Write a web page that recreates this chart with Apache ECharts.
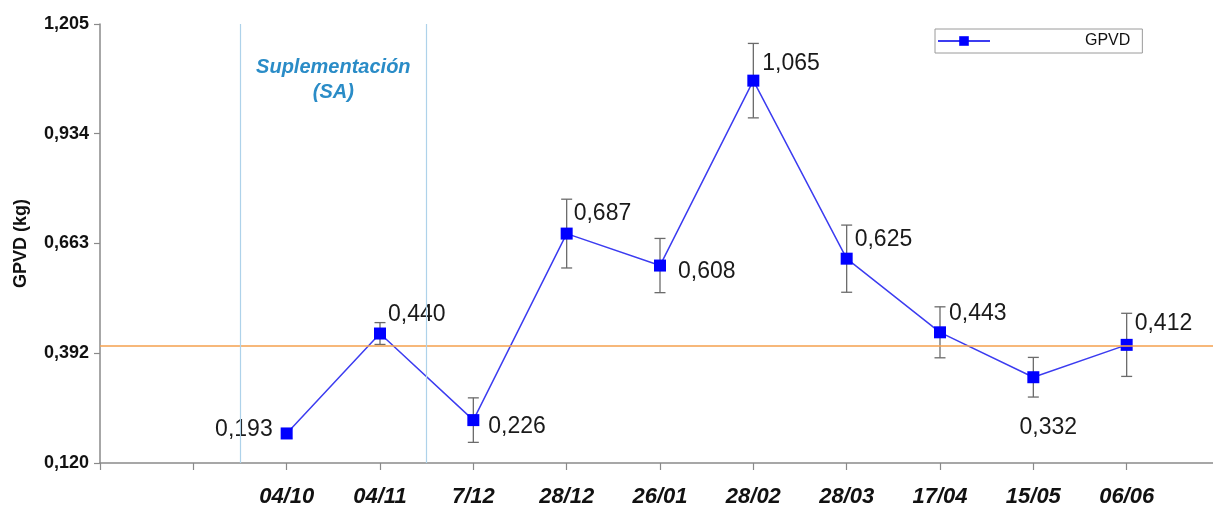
<!DOCTYPE html>
<html>
<head>
<meta charset="utf-8">
<script src="https://cdn.jsdelivr.net/npm/echarts@6/dist/echarts.min.js"></script>
<style>
html,body{margin:0;padding:0;background:#fff;}
#chart{width:1213px;height:510px;}
</style>
</head>
<body>
<div id="chart"></div>
<script>
// ---- data ----
var categories = ['04/10', '04/11', '7/12', '28/12', '26/01', '28/02', '28/03', '17/04', '15/05', '06/06'];
var gpvd = [0.193, 0.440, 0.226, 0.687, 0.608, 1.065, 0.625, 0.443, 0.332, 0.412];
var gpvdError = [0.012, 0.027, 0.055, 0.085, 0.067, 0.092, 0.083, 0.063, 0.049, 0.078];
var yTickValues = [0.120, 0.392, 0.663, 0.934, 1.205];
var referenceLevel = 0.413;
var firstSlot = 2;          // two empty category slots before the first date
var totalSlots = 12;        // slot count shown along the axis
var supplementStart = 1.5;  // supplementation period boundaries (slot units)
var supplementEnd = 3.5;

// ---- label placement (style only) ----
var labelPlace = [
  {position: 'left', distance: 8, offset: [0, -4]},
  {position: 'right', distance: 2, offset: [0, -19]},
  {position: 'right', distance: 2, offset: [7, 7]},
  {position: 'right', distance: 2, offset: [-1, -20]},
  {position: 'right', distance: 2, offset: [10, 6]},
  {position: 'right', distance: 2, offset: [1, -17]},
  {position: 'right', distance: 2, offset: [0, -19]},
  {position: 'right', distance: 2, offset: [1, -19]},
  {position: 'bottom', distance: 2, offset: [15, 31]},
  {position: 'right', distance: 2, offset: [0, -21]}
];

function fmt(v) { return v.toFixed(3).replace('.', ','); }

var lineData = gpvd.map(function (v, i) {
  return {
    value: [i + firstSlot, v],
    label: {
      show: true,
      position: labelPlace[i].position,
      distance: labelPlace[i].distance,
      offset: labelPlace[i].offset,
      formatter: fmt(v),
      fontSize: 23,
      color: '#1a1a1a',
      fontFamily: 'Liberation Sans, Arial, sans-serif'
    }
  };
});
var errData = gpvd.map(function (v, i) {
  return [i + firstSlot, v - gpvdError[i], v + gpvdError[i]];
});

var chart = echarts.init(document.getElementById('chart'), null, {renderer: 'canvas'});
chart.setOption({
  backgroundColor: '#ffffff',
  animation: false,
  grid: {left: 100, top: 24, bottom: 47, right: -7, containLabel: false, outerBoundsMode: 'none'},
  legend: {
    data: ['GPVD'],
    left: 935, top: 29,
    orient: 'horizontal',
    padding: [4, 12, 4, 2],
    borderColor: '#9a9a9a', borderWidth: 1,
    itemWidth: 52, itemHeight: 12,
    textStyle: {fontSize: 16, color: '#111', fontFamily: 'Liberation Sans, Arial, sans-serif', padding: [0, 0, 0, 90]}
  },
  xAxis: {
    type: 'value',
    min: 0, max: totalSlots, interval: 1,
    splitLine: {show: false},
    axisLine: {show: true, lineStyle: {color: '#8a8a8a', width: 1.5}},
    axisTick: {show: true, length: 7, lineStyle: {color: '#8a8a8a', width: 1.2}},
    axisLabel: {
      margin: 23,
      fontSize: 22, fontWeight: 'bold', fontStyle: 'italic', color: '#111',
      fontFamily: 'Liberation Sans Narrow, Liberation Sans, Arial, sans-serif',
      formatter: function (v) {
        var i = Math.round(v) - firstSlot;
        return (i >= 0 && i < categories.length) ? categories[i] : '';
      }
    }
  },
  yAxis: {
    type: 'value',
    min: yTickValues[0], max: yTickValues[yTickValues.length - 1],
    name: 'GPVD (kg)', nameLocation: 'middle', nameGap: 70,
    nameTextStyle: {fontSize: 18, fontWeight: 'bold', color: '#111', fontFamily: 'Liberation Sans, Arial, sans-serif'},
    splitLine: {show: false},
    axisLine: {show: true, lineStyle: {color: '#8a8a8a', width: 1.5}},
    axisTick: {show: true, length: 6, customValues: yTickValues, lineStyle: {color: '#8a8a8a', width: 1.2}},
    axisLabel: {
      customValues: yTickValues,
      margin: 11,
      fontSize: 18, fontWeight: 'bold', color: '#111',
      fontFamily: 'Liberation Sans, Arial, sans-serif',
      formatter: function (v) { return fmt(v); }
    }
  },
  series: [
    {
      type: 'custom',
      name: 'err',
      z: 1,
      silent: true,
      data: errData,
      encode: {x: 0, y: [1, 2]},
      renderItem: function (params, api) {
        var x = api.value(0);
        var top = api.coord([x, api.value(2)]);
        var bot = api.coord([x, api.value(1)]);
        var st = {stroke: '#6b6b6b', lineWidth: 1.3};
        var cw = 5.5;
        return {
          type: 'group',
          children: [
            {type: 'line', shape: {x1: top[0], y1: top[1], x2: bot[0], y2: bot[1]}, style: st},
            {type: 'line', shape: {x1: top[0] - cw, y1: top[1], x2: top[0] + cw, y2: top[1]}, style: st},
            {type: 'line', shape: {x1: bot[0] - cw, y1: bot[1], x2: bot[0] + cw, y2: bot[1]}, style: st}
          ]
        };
      }
    },
    {
      type: 'line',
      name: 'GPVD',
      z: 3,
      data: lineData,
      symbol: 'rect',
      symbolSize: 12,
      lineStyle: {color: '#3c3cf0', width: 1.5},
      itemStyle: {color: '#0000ff'},
      markLine: {
        silent: true,
        symbol: ['none', 'none'],
        label: {show: false},
        data: [
          {yAxis: referenceLevel, lineStyle: {color: '#f5a04e', width: 1.5, type: 'solid'}},
          {xAxis: supplementStart, lineStyle: {color: '#aed2ea', width: 1.2, type: 'solid'}},
          {xAxis: supplementEnd, lineStyle: {color: '#aed2ea', width: 1.2, type: 'solid'}}
        ]
      },
      markArea: {
        silent: true,
        itemStyle: {color: 'rgba(0,0,0,0)'},
        label: {
          show: true,
          position: 'insideTop',
          distance: 31,
          formatter: 'Suplementación\n(SA)',
          fontSize: 20, fontWeight: 'bold', fontStyle: 'italic',
          color: '#2a8cc7', lineHeight: 25, align: 'center',
          fontFamily: 'Liberation Sans, Arial, sans-serif'
        },
        data: [[{xAxis: supplementStart}, {xAxis: supplementEnd}]]
      }
    }
  ]
});
</script>
</body>
</html>
